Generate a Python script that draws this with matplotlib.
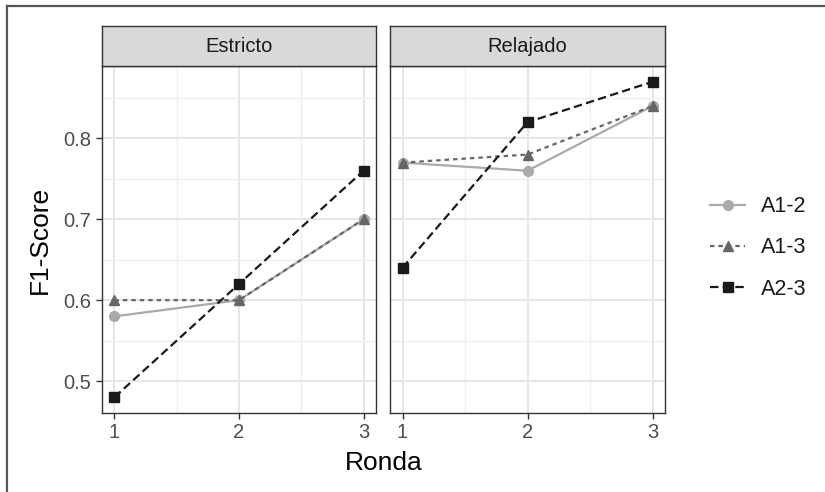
import matplotlib
matplotlib.use("Agg")
import matplotlib.pyplot as plt
from matplotlib.lines import Line2D
import numpy as np

plt.rcParams["font.family"] = ["Liberation Sans", "DejaVu Sans"]

# ── Data ──────────────────────────────────────────────────────────────────────
rondas = [1, 2, 3]
panels = ["Estricto", "Relajado"]
series = ["A1-2", "A1-3", "A2-3"]

estricto_a12 = [0.58, 0.60, 0.70]
estricto_a13 = [0.60, 0.60, 0.70]
estricto_a23 = [0.48, 0.62, 0.76]

relajado_a12 = [0.77, 0.76, 0.84]
relajado_a13 = [0.77, 0.78, 0.84]
relajado_a23 = [0.64, 0.82, 0.87]

values = {
    "Estricto": [estricto_a12, estricto_a13, estricto_a23],
    "Relajado": [relajado_a12, relajado_a13, relajado_a23],
}

yticks = [0.5, 0.6, 0.7, 0.8]

# ── Styles ────────────────────────────────────────────────────────────────────
STYLE = {
    "A1-2": dict(color="#aaaaaa", marker="o", dashes=None),
    "A1-3": dict(color="#666666", marker="^", dashes=(2.0, 1.8)),
    "A2-3": dict(color="#1a1a1a", marker="s", dashes=(3.8, 1.9)),
}
LW = 1.6
MS = 7
TXT = "#4d4d4d"
FRAME = "#333333"
FS = 14.5

fig = plt.figure(figsize=(8.25, 4.92), dpi=100)
W, H = 825, 492


def px_axes(x0, y0, x1, y1):
    return fig.add_axes([x0 / W, 1 - y1 / H, (x1 - x0) / W, (y1 - y0) / H])


all_vals = np.concatenate([np.ravel(values[p]) for p in panels])
lo, hi = all_vals.min(), all_vals.max()
pad = (hi - lo) * 0.05
ylim = (lo - pad, hi + pad)

panel_x = [(102, 376), (390, 665)]
for pi, (panel, (x0, x1)) in enumerate(zip(panels, panel_x)):
    ax = px_axes(x0, 66, x1, 413)
    ax.set_xlim(0.9, 3.1)
    ax.set_ylim(*ylim)
    ax.set_xticks(rondas)
    ax.set_xticks([1.5, 2.5], minor=True)
    ax.set_yticks(yticks)
    ax.set_yticks([0.55, 0.65, 0.75, 0.85], minor=True)
    ax.grid(True, which="major", color="#e6e6e6", linewidth=1.4, zorder=0)
    ax.grid(True, which="minor", color="#efefef", linewidth=0.9, zorder=0)
    ax.set_axisbelow(True)
    for s in ax.spines.values():
        s.set_color(FRAME)
        s.set_linewidth(1.0)
    ax.tick_params(which="major", length=4.5, width=1.0, color=FRAME,
                   labelsize=FS, labelcolor=TXT, pad=3)
    ax.tick_params(which="minor", length=0)
    if pi > 0:
        ax.tick_params(axis="y", labelleft=False, length=0)

    for name, ys in zip(series, values[panel]):
        st = STYLE[name]
        line, = ax.plot(rondas, ys, color=st["color"], marker=st["marker"],
                        markersize=MS, linewidth=LW, zorder=3)
        if st["dashes"]:
            line.set_dashes(st["dashes"])

    # facet strip
    sax = px_axes(x0, 26, x1, 66)
    sax.set_facecolor("#d9d9d9")
    sax.set_xticks([])
    sax.set_yticks([])
    for s in sax.spines.values():
        s.set_color(FRAME)
        s.set_linewidth(1.0)
    sax.text(0.5, 0.5, panel, ha="center", va="center", fontsize=FS,
             color="#1a1a1a", transform=sax.transAxes)

fig.text(383.5 / W, 1 - 463 / H, "Ronda", ha="center", va="center",
         fontsize=19, color="black")
fig.text(40 / W, 1 - 240 / H, "F1-Score", ha="center", va="center",
         rotation=90, fontsize=19, color="black")

# legend
handles = []
for name in series:
    st = STYLE[name]
    h = Line2D([], [], color=st["color"], marker=st["marker"], markersize=MS,
               linewidth=LW)
    if st["dashes"]:
        h.set_dashes(st["dashes"])
    handles.append(h)
fig.legend(handles, series, loc="center left",
           bbox_to_anchor=(691 / W, 1 - 248 / H), frameon=False,
           fontsize=15.5, handlelength=1.6, handletextpad=0.75,
           labelspacing=0.95, labelcolor="#1a1a1a")

# outer frame (top and left edges only)
fig.add_artist(Line2D([6.5 / W, 6.5 / W], [0, 1 - 5.5 / H], color="#555555",
                      linewidth=1.6, transform=fig.transFigure))
fig.add_artist(Line2D([6.5 / W, 1], [1 - 5.5 / H, 1 - 5.5 / H], color="#555555",
                      linewidth=1.6, transform=fig.transFigure))

fig.savefig("out.png", dpi=100)
